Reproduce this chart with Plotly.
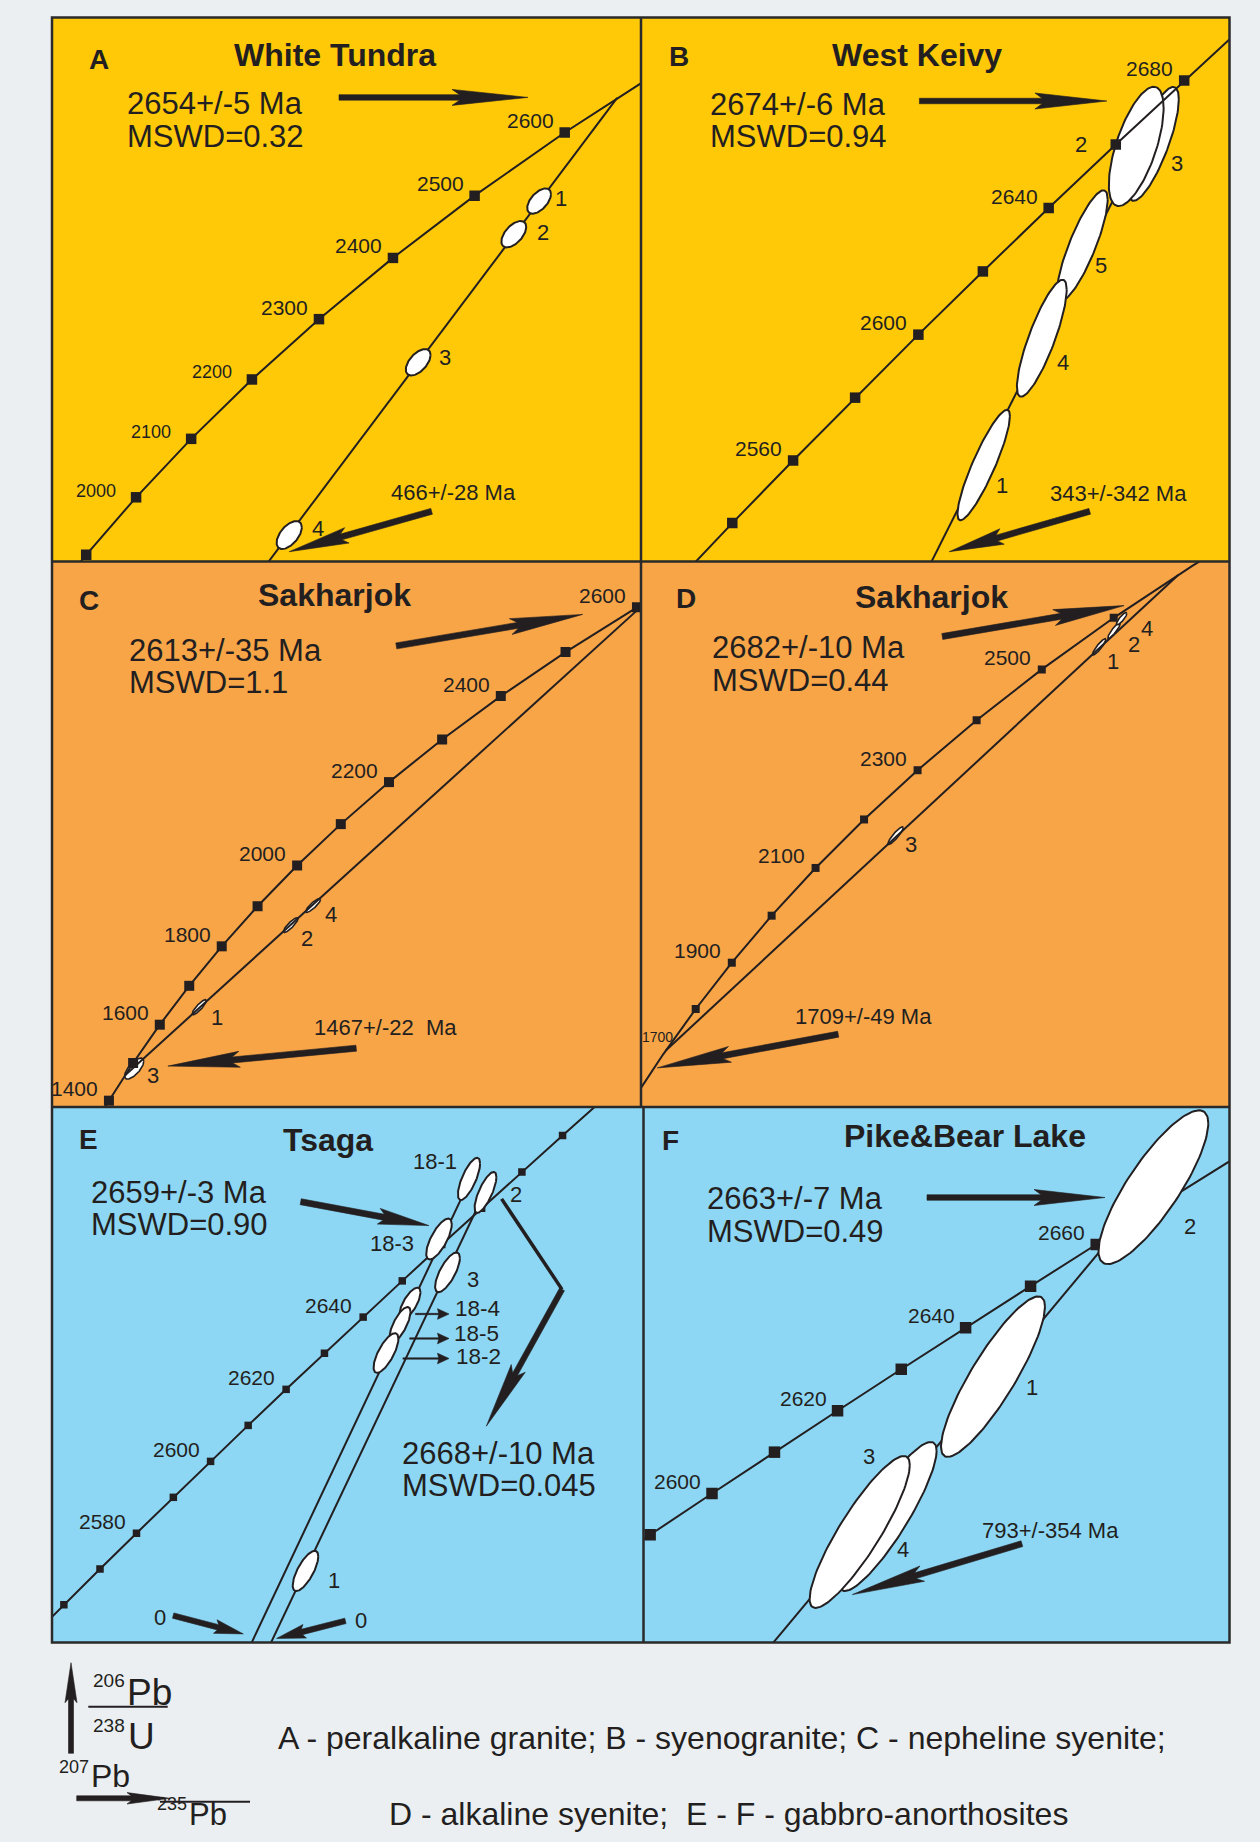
import numpy as np
import plotly.graph_objects as go

FIG_W, FIG_H = 1260, 1842

# U-Pb decay constants (1/Ma)
LAMBDA_238 = 1.55125e-4
LAMBDA_235 = 9.8485e-4


def concordia(age_ma):
    """Wetherill concordia: 207Pb/235U (x) and 206Pb/238U (y) for ages in Ma."""
    t = np.asarray(age_ma, dtype=float)
    return np.expm1(LAMBDA_235 * t), np.expm1(LAMBDA_238 * t)


# ---------------------------------------------------------------- data
# A - White Tundra (peralkaline granite)
A_tick_ages = [1900, 2000, 2100, 2200, 2300, 2400, 2500, 2600]
A_label_ages = [2000, 2100, 2200, 2300, 2400, 2500, 2600]
A_intercepts = [[2654, 466]]
A_ell_id = ["1", "2", "3", "4"]
A_ell_x = [11.5988, 11.2579, 9.9697, 8.2315]
A_ell_y = [0.4718, 0.4597, 0.4130, 0.3500]
A_ell_sx = [0.1603, 0.1675, 0.1675, 0.1700]
A_ell_sy = [0.00460, 0.00481, 0.00481, 0.00511]
A_ell_rho = [0.55, 0.55, 0.55, 0.55]

# B - West Keivy (syenogranite)
B_tick_ages = [2540, 2560, 2580, 2600, 2620, 2640, 2660, 2680]
B_label_ages = [2560, 2600, 2640, 2680]
B_intercepts = [[2674, 343]]
B_ell_id = ["1", "5", "4", "3", "2"]
B_ell_x = [12.2045, 12.5984, 12.4364, 12.8818, 12.8132]
B_ell_y = [0.48720, 0.50335, 0.49653, 0.51083, 0.51064]
B_ell_sx = [0.1046, 0.1010, 0.0994, 0.1014, 0.1094]
B_ell_sy = [0.00406, 0.00406, 0.00430, 0.00419, 0.00439]
B_ell_rho = [0.885, 0.83, 0.83, 0.78, 0.64]

# C - Sakharjok (nepheline syenite)
C_tick_ages = [1400, 1500, 1600, 1700, 1800, 1900, 2000, 2100, 2200, 2300, 2400, 2500, 2600]
C_label_ages = [1400, 1600, 1800, 2000, 2200, 2400, 2600]
C_intercepts = [[2613, 1467]]
C_ell_id = ["3", "1", "2", "4"]
C_ell_x = [3.3994, 4.5057, 6.0590, 6.4397]
C_ell_y = [0.25909, 0.29074, 0.33305, 0.34315]
C_ell_sx = [0.1631, 0.1207, 0.1241, 0.1268]
C_ell_sy = [0.00541, 0.00387, 0.00381, 0.00361]
C_ell_rho = [0.70, 0.87, 0.87, 0.87]

# D - Sakharjok (alkaline syenite)
D_tick_ages = [1800, 1900, 2000, 2100, 2200, 2300, 2400, 2500, 2600]
D_label_ages = [1900, 2100, 2300, 2500]
D_intercepts = [[2682, 1709]]
D_ell_id = ["3", "1", "2", "4"]
D_ell_x = [8.2615, 11.6988, 11.9487, 12.0770]
D_ell_y = [0.39950, 0.48380, 0.49104, 0.49639]
D_ell_sx = [0.1300, 0.1131, 0.1064, 0.0878]
D_ell_sy = [0.00393, 0.00366, 0.00366, 0.00272]
D_ell_rho = [0.90, 0.90, 0.90, 0.85]

# E - Tsaga (gabbro-anorthosite)
E_tick_ages = [2560, 2570, 2580, 2590, 2600, 2610, 2620, 2630, 2640, 2650, 2660, 2670, 2680, 2690]
E_label_ages = [2580, 2600, 2620, 2640]
E_intercepts = [[2659, 0], [2668, 0]]
E_ell_id = ["18-1", "2", "18-3", "3", "18-4", "18-5", "18-2", "1"]
E_ell_x = [12.8245, 12.8807, 12.7222, 12.7512, 12.6234, 12.5893, 12.5416, 12.2672]
E_ell_y = [0.51503, 0.51416, 0.51115, 0.50900, 0.50699, 0.50563, 0.50379, 0.48972]
E_ell_sx = [0.0378, 0.0372, 0.0436, 0.0423, 0.0358, 0.0358, 0.0423, 0.0436]
E_ell_sy = [0.00136, 0.00132, 0.00132, 0.00128, 0.00102, 0.00113, 0.00128, 0.00130]
E_ell_rho = [0.73, 0.75, 0.72, 0.72, 0.70, 0.72, 0.72, 0.72]

# F - Pike & Bear Lake (gabbro-anorthosite)
F_tick_ages = [2590, 2600, 2610, 2620, 2630, 2640, 2650, 2660, 2670]
F_label_ages = [2600, 2620, 2640, 2660]
F_intercepts = [[2663, 793]]
F_ell_id = ["4", "3", "1", "2"]
F_ell_x = [12.3042, 12.2466, 12.5200, 12.8489]
F_ell_y = [0.49550, 0.49463, 0.50336, 0.51401]
F_ell_sx = [0.1001, 0.1027, 0.1066, 0.1126]
F_ell_sy = [0.00419, 0.00427, 0.00451, 0.00432]
F_ell_rho = [0.88, 0.88, 0.87, 0.83]

PANEL_DATA = {
    "A": (A_tick_ages, A_label_ages, A_intercepts, A_ell_id, A_ell_x, A_ell_y, A_ell_sx, A_ell_sy, A_ell_rho),
    "B": (B_tick_ages, B_label_ages, B_intercepts, B_ell_id, B_ell_x, B_ell_y, B_ell_sx, B_ell_sy, B_ell_rho),
    "C": (C_tick_ages, C_label_ages, C_intercepts, C_ell_id, C_ell_x, C_ell_y, C_ell_sx, C_ell_sy, C_ell_rho),
    "D": (D_tick_ages, D_label_ages, D_intercepts, D_ell_id, D_ell_x, D_ell_y, D_ell_sx, D_ell_sy, D_ell_rho),
    "E": (E_tick_ages, E_label_ages, E_intercepts, E_ell_id, E_ell_x, E_ell_y, E_ell_sx, E_ell_sy, E_ell_rho),
    "F": (F_tick_ages, F_label_ages, F_intercepts, F_ell_id, F_ell_x, F_ell_y, F_ell_sx, F_ell_sy, F_ell_rho),
}

# ---------------------------------------------------------------- styling / layout
PAGE_BG = "#ECEFF2"
INK = "#231F20"
FRAME = "#2A2A2A"
FONT = "Liberation Sans, Arial, Helvetica, sans-serif"
YELLOW, ORANGE, BLUE = "#FFC908", "#F8A548", "#8DD7F5"

# subplot boxes (page pixels) and axis windows (isotope ratios)
GEOM = {
    "A": dict(px=(52, 641), py=(17.5, 561.5), xr=(5.03531, 12.97182), yr=(0.340356, 0.538730), bg=YELLOW),
    "B": dict(px=(641, 1229.5), py=(17.5, 561.5), xr=(10.83664, 13.18556), yr=(0.480103, 0.520127), bg=YELLOW),
    "C": dict(px=(52, 641), py=(561.5, 1107), xr=(2.00242, 12.01211), yr=(0.239303, 0.520431), bg=ORANGE),
    "D": dict(px=(641, 1229.5), py=(561.5, 1107), xr=(3.96326, 13.89860), yr=(0.278334, 0.521937), bg=ORANGE),
    "E": dict(px=(52, 643.5), py=(1107, 1642.5), xr=(11.40327, 13.41922), yr=(0.485100, 0.519674), bg=BLUE),
    "F": dict(px=(643.5, 1229.5), py=(1107, 1642.5), xr=(11.80324, 13.00497), yr=(0.488417, 0.518519), bg=BLUE),
}

STYLE = {
    "A": dict(tick=10.5, ell_w=2.0, order=["concordia", "discordia", "ticks", "ellipses"], ext=[1.0]),
    "B": dict(tick=10.5, ell_w=2.0, order=["discordia", "ellipses", "concordia", "ticks"], ext=[1.0]),
    "C": dict(tick=10.0, ell_w=1.6, order=["ellipses", "concordia", "discordia", "ticks"], ext=[1.0]),
    "D": dict(tick=8.0, ell_w=1.6, order=["ellipses", "concordia", "discordia", "ticks"], ext=[1.0]),
    "E": dict(tick=7.5, ell_w=2.0, order=["concordia", "discordia", "ticks", "ellipses"], ext=[1.009, 1.004]),
    "F": dict(tick=11.5, ell_w=2.0, order=["concordia", "discordia", "ticks", "ellipses"], ext=[1.0]),
}

# concordia age labels: font size, x shift, y shift (px)
TICK_LABEL_STYLE = (21, -10, 12)
TICK_LABEL_OVERRIDE = {("A", 2000): (18, -19, 6.5), ("A", 2100): (18, -19, 6.5), ("A", 2200): (18, -19, 7.5)}

# screen offsets (px right, px down) of the spot numbers from their ellipse centres
SPOT_LABEL_OFFSET = {
    "A": {"1": (22, -3), "2": (29, -2), "3": (27, -4.5), "4": (29, -6.4)},
    "B": {"1": (18, 20), "4": (21, 24), "5": (19, 20), "2": (-55, -2), "3": (24, 20)},
    "C": {"1": (18, 10.5), "2": (16.5, 13), "4": (17.4, 9), "3": (19, 7)},
    "D": {"1": (14, 15), "2": (20, 13.5), "4": (25, 10), "3": (15, 9)},
    "E": {"18-1": (-34, -17.5), "2": (30.6, 1.6), "18-3": (-47, 4.7), "3": (25, 7), "1": (28.5, 9.6)},
    "F": {"2": (37, 39), "1": (39, 11), "3": (9, -75), "4": (15.5, 32.5)},
}


def ellipse_xy(cx, cy, sx, sy, rho, n=120):
    t = np.linspace(0, 2 * np.pi, n)
    x = cx + sx * np.cos(t)
    y = cy + sy * (rho * np.cos(t) + np.sqrt(1 - rho ** 2) * np.sin(t))
    return x, y


def arrow_xy(tail, tip, w, L, h):
    p0 = np.array(tail, float)
    p1 = np.array(tip, float)
    u = p1 - p0
    u /= np.linalg.norm(u)
    nrm = np.array([-u[1], u[0]])
    neck = p1 - u * L * 0.9
    base = p1 - u * L
    pts = [p0 + nrm * w / 2, neck + nrm * w / 2, base + nrm * h, p1,
           base - nrm * h, neck - nrm * w / 2, p0 - nrm * w / 2, p0 + nrm * w / 2]
    return [p[0] for p in pts], [p[1] for p in pts]


fig = go.Figure()
layout = dict(
    width=FIG_W, height=FIG_H, margin=dict(l=0, r=0, t=0, b=0),
    paper_bgcolor=PAGE_BG, plot_bgcolor="rgba(0,0,0,0)", showlegend=False,
)
shapes = []
annotations = []


def note(x, y, text, size, xref="x7", yref="y7", xanchor="center", yanchor="middle",
         bold=False, xshift=0, yshift=0):
    if bold:
        text = "<b>" + text + "</b>"
    annotations.append(dict(
        x=x, y=y, xref=xref, yref=yref, text=text, showarrow=False, borderpad=0,
        font=dict(family=FONT, size=size, color=INK),
        xanchor=xanchor, yanchor=yanchor, xshift=xshift, yshift=yshift))


for i, key in enumerate("ABCDEF"):
    n = i + 1
    sfx = "" if n == 1 else str(n)
    xa, ya = "x" + sfx, "y" + sfx
    g = GEOM[key]
    st = STYLE[key]
    layout["xaxis" + sfx] = dict(domain=[g["px"][0] / FIG_W, g["px"][1] / FIG_W], range=list(g["xr"]),
                                 anchor=ya, visible=False, fixedrange=True)
    layout["yaxis" + sfx] = dict(domain=[1 - g["py"][1] / FIG_H, 1 - g["py"][0] / FIG_H], range=list(g["yr"]),
                                 anchor=xa, visible=False, fixedrange=True)
    shapes.append(dict(type="rect", xref=xa + " domain", yref=ya + " domain", x0=0, x1=1, y0=0, y1=1,
                       fillcolor=g["bg"], line=dict(width=0), layer="below"))

    ticks, labels, intercepts, eid, ex, ey, esx, esy, erho = PANEL_DATA[key]
    step = ticks[1] - ticks[0]
    line_ages = [ticks[0] - 2 * step, ticks[0] - step] + list(ticks) + [ticks[-1] + step, ticks[-1] + 2 * step]

    for part in st["order"]:
        if part == "concordia":
            cx, cy = concordia(line_ages)
            fig.add_trace(go.Scatter(x=cx, y=cy, xaxis=xa, yaxis=ya, mode="lines",
                                     line=dict(color=INK, width=2), hoverinfo="skip"))
        elif part == "discordia":
            for (upper, lower), k in zip(intercepts, st["ext"]):
                ux, uy = concordia(upper)
                lx, ly = concordia(lower)
                ex_end, ey_end = lx + k * (ux - lx), ly + k * (uy - ly)
                fig.add_trace(go.Scatter(x=[lx, ex_end], y=[ly, ey_end], xaxis=xa, yaxis=ya, mode="lines",
                                         line=dict(color=INK, width=2), hoverinfo="skip"))
        elif part == "ticks":
            tx, ty = concordia(ticks)
            fig.add_trace(go.Scatter(x=tx, y=ty, xaxis=xa, yaxis=ya, mode="markers",
                                     marker=dict(symbol="square", size=st["tick"], color=INK,
                                                 line=dict(width=0)),
                                     hoverinfo="skip"))
        elif part == "ellipses":
            for j in range(len(eid)):
                px_, py_ = ellipse_xy(ex[j], ey[j], esx[j], esy[j], erho[j])
                fig.add_trace(go.Scatter(x=px_, y=py_, xaxis=xa, yaxis=ya, mode="lines", fill="toself",
                                         fillcolor="white", line=dict(color=INK, width=st["ell_w"]),
                                         hoverinfo="skip"))

    # concordia age labels
    lx_, ly_ = concordia(labels)
    for age, x_, y_ in zip(labels, lx_, ly_):
        fs, dx, dy = TICK_LABEL_OVERRIDE.get((key, age), TICK_LABEL_STYLE)
        note(float(x_), float(y_), str(age), fs, xref=xa, yref=ya,
             xanchor="right", yanchor="middle", xshift=dx, yshift=dy)

    # spot numbers
    offs = SPOT_LABEL_OFFSET[key]
    for j, sid in enumerate(eid):
        if sid in offs:
            dx, dy = offs[sid]
            note(ex[j], ey[j], sid, 22, xref=xa, yref=ya, xshift=dx, yshift=-dy)

# full-page overlay in pixel units for the lettering and pointer arrows
layout["xaxis7"] = dict(domain=[0, 1], range=[0, FIG_W], anchor="y7", visible=False, fixedrange=True)
layout["yaxis7"] = dict(domain=[0, 1], range=[FIG_H, 0], anchor="x7", visible=False, fixedrange=True)


def add_arrow(tail, tip, w, L, h):
    x, y = arrow_xy(tail, tip, w, L, h)
    fig.add_trace(go.Scatter(x=x, y=y, xaxis="x7", yaxis="y7", mode="lines", fill="toself",
                             fillcolor=INK, line=dict(color=INK, width=0.6), hoverinfo="skip"))


def add_line(x, y, w):
    fig.add_trace(go.Scatter(x=x, y=y, xaxis="x7", yaxis="y7", mode="lines",
                             line=dict(color=INK, width=w), hoverinfo="skip"))


# pointer arrows
add_arrow((339, 97.4), (528, 97.4), 5.5, 76, 8)
add_arrow((431.6, 511.3), (289.2, 551.7), 6, 60, 8)
add_arrow((919.4, 101), (1106.9, 101), 5.5, 72, 8)
add_arrow((1089.7, 511.3), (949.2, 551.7), 6, 55, 8)
add_arrow((396.3, 645.9), (582.7, 614.4), 6, 73, 8)
add_arrow((356.2, 1048.2), (167.9, 1066.1), 6, 72, 8)
add_arrow((942.3, 636.5), (1124.1, 605.6), 6, 71, 8)
add_arrow((838.2, 1034.2), (657.2, 1067.9), 6, 74, 8)
add_arrow((300.7, 1201.7), (428.9, 1225.6), 6, 51, 8)
add_line([501.6, 562.0], [1198.9, 1289.4], 3.5)
add_arrow((562.0, 1289.4), (486.3, 1426.2), 5.5, 66, 8)
add_arrow((173.2, 1615.6), (243.3, 1633.9), 5.5, 29, 7)
add_arrow((345.4, 1620.9), (276.6, 1638.4), 5.5, 29, 7)
add_arrow((927, 1197.5), (1105, 1197.5), 5.5, 71, 8)
add_arrow((1021.9, 1543.7), (852.4, 1594.6), 6, 73, 8)
for y0, x0 in [(1314, 415.5), (1338.5, 409.7), (1358.5, 402.9)]:
    add_arrow((x0, y0), (449, y0), 1.3, 11.5, 5.3)

# axis key
add_arrow((71, 1753.3), (71, 1662.7), 5, 40, 6)
add_arrow((76.7, 1798.3), (170, 1798.3), 5, 43, 5.7)
add_line([88.3, 167.7], [1706.7, 1706.7], 2)
add_line([160, 250], [1801.7, 1801.7], 2)

# panel letters and titles
for t, x, y in [("A", 98.8, 59.8), ("B", 678.9, 56.8), ("C", 88.9, 600.3),
                ("D", 686, 598.6), ("E", 88.3, 1139.1), ("F", 670.7, 1140.3)]:
    note(x, y, t, 28, bold=True)
for t, x, y in [("White Tundra", 335, 54.5), ("West Keivy", 917.3, 54.5), ("Sakharjok", 334.1, 595),
                ("Sakharjok", 931.4, 597), ("Tsaga", 328.2, 1139.5), ("Pike&amp;Bear Lake", 964.7, 1136)]:
    note(x, y, t, 32, bold=True)

# ages and MSWD
for t, x, y in [("2654+/-5 Ma", 126, 103.8), ("MSWD=0.32", 126, 136.2),
                ("2674+/-6 Ma", 709, 104.0), ("MSWD=0.94", 709, 136.4),
                ("2613+/-35 Ma", 127.7, 650.5), ("MSWD=1.1", 127.7, 682.9),
                ("2682+/-10 Ma", 710.8, 647.6), ("MSWD=0.44", 710.8, 680.0),
                ("2659+/-3 Ma", 90.2, 1192.2), ("MSWD=0.90", 90.2, 1224.7),
                ("2668+/-10 Ma", 401.3, 1453.2), ("MSWD=0.045", 401.3, 1485.7),
                ("2663+/-7 Ma", 705.8, 1198.8), ("MSWD=0.49", 705.8, 1231.3)]:
    note(x, y, t, 31, xanchor="left")

for t, x, y in [("466+/-28 Ma", 389.8, 492.3), ("343+/-342 Ma", 1048.7, 493.8),
                ("1467+/-22\u00a0 Ma", 313.3, 1027), ("1709+/-49 Ma", 794.2, 1016.5),
                ("793+/-354 Ma", 981.4, 1530)]:
    note(x, y, t, 22, xanchor="left")

note(160.2, 1617.4, "0", 22)
note(361.1, 1620.9, "0", 22)
for t, x, y in [("18-4", 453.7, 1308.7), ("18-5", 452.6, 1333.3), ("18-2", 454.9, 1356.7)]:
    note(x, y, t, 22.5, xanchor="left")
note(657, 1037, "1700", 14)

# key text
note(125.5, 1680, "206", 19, xanchor="right")
note(126, 1692, "Pb", 37, xanchor="left")
note(125.5, 1725, "238", 19, xanchor="right")
note(127, 1736, "U", 37, xanchor="left")
note(89.5, 1767, "207", 18, xanchor="right")
note(90, 1776, "Pb", 32, xanchor="left")
note(187.5, 1804, "235", 18, xanchor="right")
note(188, 1814, "Pb", 31, xanchor="left")
note(277, 1738, "A - peralkaline granite; B - syenogranite; C - nepheline syenite;", 32, xanchor="left")
note(388, 1814, "D - alkaline syenite;\u00a0 E - F - gabbro-anorthosites", 32, xanchor="left")

# panel frames
fr = dict(color=FRAME, width=2.5)
shapes += [
    dict(type="rect", xref="x7", yref="y7", x0=52, x1=1229.5, y0=17.5, y1=1642.5, line=fr, layer="above"),
    dict(type="line", xref="x7", yref="y7", x0=52, x1=1229.5, y0=561.5, y1=561.5, line=fr, layer="above"),
    dict(type="line", xref="x7", yref="y7", x0=52, x1=1229.5, y0=1107, y1=1107, line=fr, layer="above"),
    dict(type="line", xref="x7", yref="y7", x0=641, x1=641, y0=17.5, y1=1107, line=fr, layer="above"),
    dict(type="line", xref="x7", yref="y7", x0=643.5, x1=643.5, y0=1107, y1=1642.5, line=fr, layer="above"),
]

layout["shapes"] = shapes
layout["annotations"] = annotations
fig.update_layout(**layout)
fig.write_html("out.html")
